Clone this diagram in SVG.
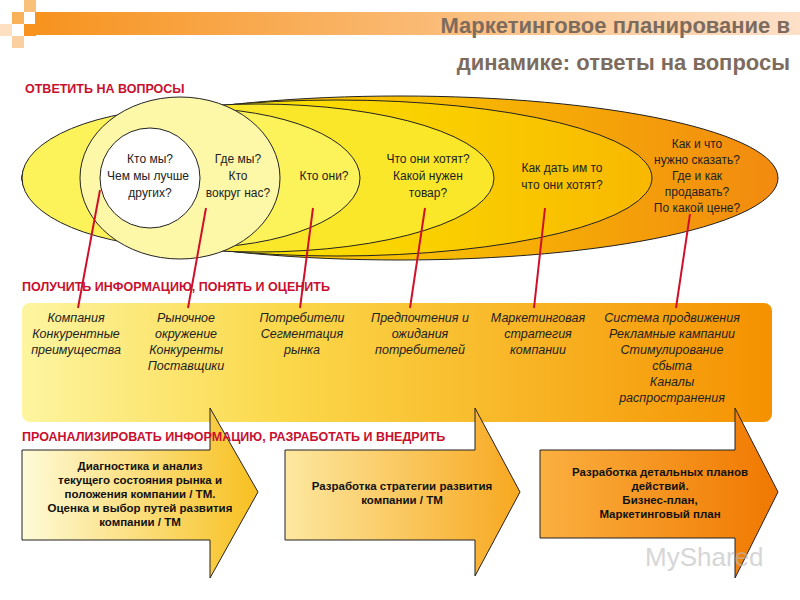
<svg xmlns="http://www.w3.org/2000/svg" width="800" height="600" viewBox="0 0 800 600">
<defs>
<linearGradient id="bar" x1="0" x2="1"><stop offset="0" stop-color="#f7931e"/><stop offset="1" stop-color="#fde0c8"/></linearGradient>
<linearGradient id="e1" x1="0" x2="1"><stop offset="0.5" stop-color="#f8c000"/><stop offset="1" stop-color="#f28a10"/></linearGradient>
<linearGradient id="e2" x1="0" x2="1"><stop offset="0.4" stop-color="#fbe000"/><stop offset="1" stop-color="#f8b800"/></linearGradient>
<linearGradient id="rect" x1="0" x2="1"><stop offset="0" stop-color="#fdf5a0"/><stop offset="0.35" stop-color="#fbd84a"/><stop offset="1" stop-color="#f59100"/></linearGradient>
<linearGradient id="ar1" x1="0" x2="1"><stop offset="0" stop-color="#fefbd8"/><stop offset="1" stop-color="#f8c020"/></linearGradient>
<linearGradient id="ar2" x1="0" x2="1"><stop offset="0" stop-color="#fde8a0"/><stop offset="1" stop-color="#f7a820"/></linearGradient>
<linearGradient id="ar3" x1="0" x2="1"><stop offset="0" stop-color="#fbb040"/><stop offset="1" stop-color="#f07800"/></linearGradient>
</defs>
<style>
.hd{font-family:"Liberation Sans",Arial,sans-serif;font-weight:bold;font-size:12.5px;fill:#c8102e}
.q{font-family:"Liberation Sans",Arial,sans-serif;font-size:12px;fill:#222;text-anchor:middle}
.it{font-family:"Liberation Sans",Arial,sans-serif;font-style:italic;font-size:12.5px;fill:#222;text-anchor:middle}
.ab{font-family:"Liberation Sans",Arial,sans-serif;font-weight:bold;font-size:11.5px;fill:#111;text-anchor:middle}
.el{stroke:#222;stroke-width:1}
.rl{stroke:#d0102a;stroke-width:2}
.arw{stroke:#222;stroke-width:1}
</style>
<rect width="800" height="600" fill="#fff"/>
<g id="header">
<rect x="35" y="12" width="765" height="23" fill="url(#bar)"/>
<rect x="12" y="12" width="12" height="12" fill="#f9b25a"/>
<rect x="24" y="0" width="12" height="12" fill="#f9c07a"/>
<rect x="24" y="24" width="12" height="12" fill="#f7931e"/>
<rect x="12" y="36" width="12" height="12" fill="#fad0a0"/>
<rect x="0" y="24" width="12" height="12" fill="#fde0c0"/>
<text x="790" y="33" text-anchor="end" font-family="Liberation Sans,Arial,sans-serif" font-size="22" font-weight="bold" fill="#7d6c5e">Маркетинговое планирование в</text>
<text x="790" y="70" text-anchor="end" font-family="Liberation Sans,Arial,sans-serif" font-size="22" font-weight="bold" fill="#7d6c5e">динамике: ответы на вопросы</text>
</g>
<text class="hd" x="25" y="93">ОТВЕТИТЬ НА ВОПРОСЫ</text>
<g id="ellipses">
<ellipse class="el" cx="400" cy="178" rx="378" ry="82" fill="url(#e1)"/>
<ellipse class="el" cx="337" cy="178" rx="315" ry="78" fill="url(#e2)"/>
<ellipse class="el" cx="258" cy="178" rx="236" ry="74" fill="#fbe72a"/>
<ellipse class="el" cx="191" cy="178" rx="169" ry="70" fill="#fcf25a"/>
<ellipse class="el" cx="180" cy="178" rx="100" ry="81" fill="#fdf8a8"/>
<circle class="el" cx="150" cy="178" r="50" fill="#fff"/>
</g>
<g id="questions">
<text class="q" x="150" y="163">Кто мы?</text><text class="q" x="148" y="180">Чем мы лучше</text><text class="q" x="150" y="197">других?</text>
<text class="q" x="238" y="163">Где мы?</text><text class="q" x="238" y="180">Кто</text><text class="q" x="238" y="197">вокруг нас?</text>
<text class="q" x="324" y="180">Кто они?</text>
<text class="q" x="428" y="163">Что они хотят?</text><text class="q" x="428" y="180">Какой нужен</text><text class="q" x="428" y="197">товар?</text>
<text class="q" x="562" y="172">Как дать им то</text><text class="q" x="562" y="189">что они хотят?</text>
<text class="q" x="697" y="148">Как и что</text><text class="q" x="697" y="164">нужно сказать?</text><text class="q" x="697" y="180">Где и как</text><text class="q" x="697" y="196">продавать?</text><text class="q" x="697" y="212">По какой цене?</text>
</g>
<rect id="inforect" x="22" y="303" width="750" height="119" rx="8" fill="url(#rect)"/>
<g id="connectors">
<line class="rl" x1="100" y1="190" x2="78" y2="308"/>
<line class="rl" x1="206" y1="208" x2="188" y2="308"/>
<line class="rl" x1="313" y1="208" x2="300" y2="308"/>
<line class="rl" x1="425" y1="208" x2="410" y2="308"/>
<line class="rl" x1="545" y1="208" x2="534" y2="308"/>
<line class="rl" x1="690" y1="214" x2="676" y2="308"/>
</g>
<text class="hd" x="22" y="291">ПОЛУЧИТЬ ИНФОРМАЦИЮ, ПОНЯТЬ И ОЦЕНИТЬ</text>
<g id="info">
<text class="it" x="76" y="322">Компания</text><text class="it" x="76" y="338">Конкурентные</text><text class="it" x="76" y="354">преимущества</text>
<text class="it" x="186" y="322">Рыночное</text><text class="it" x="186" y="338">окружение</text><text class="it" x="186" y="354">Конкуренты</text><text class="it" x="186" y="370">Поставщики</text>
<text class="it" x="302" y="322">Потребители</text><text class="it" x="302" y="338">Сегментация</text><text class="it" x="302" y="354">рынка</text>
<text class="it" x="420" y="322">Предпочтения и</text><text class="it" x="420" y="338">ожидания</text><text class="it" x="420" y="354">потребителей</text>
<text class="it" x="538" y="322">Маркетинговая</text><text class="it" x="538" y="338">стратегия</text><text class="it" x="538" y="354">компании</text>
<text class="it" x="672" y="322">Система продвижения</text><text class="it" x="672" y="338">Рекламные кампании</text><text class="it" x="672" y="354">Стимулирование</text><text class="it" x="672" y="370">сбыта</text><text class="it" x="672" y="386">Каналы</text><text class="it" x="672" y="402">распространения</text>
</g>
<g id="arrows">
<path class="arw" d="M22 450 H210 V408 L258 492 L210 578 V540 H22 Z" fill="url(#ar1)"/>
<path class="arw" d="M285 450 H475 V408 L520 492 L475 576 V540 H285 Z" fill="url(#ar2)"/>
<path class="arw" d="M540 450 H735 V408 L778 492 L735 578 V538 H540 Z" fill="url(#ar3)"/>
</g>
<text class="hd" x="22" y="441">ПРОАНАЛИЗИРОВАТЬ ИНФОРМАЦИЮ, РАЗРАБОТАТЬ И ВНЕДРИТЬ</text>
<g id="arrowtext">
<text class="ab" x="140" y="470">Диагностика и анализ</text><text class="ab" x="140" y="484">текущего состояния рынка и</text><text class="ab" x="140" y="498">положения компании / ТМ.</text><text class="ab" x="140" y="512">Оценка и выбор путей развития</text><text class="ab" x="140" y="526">компании / ТМ</text>
<text class="ab" x="402" y="490">Разработка стратегии развития</text><text class="ab" x="402" y="504">компании / ТМ</text>
<text class="ab" x="660" y="476">Разработка детальных планов</text><text class="ab" x="660" y="490">действий.</text><text class="ab" x="660" y="504">Бизнес-план,</text><text class="ab" x="660" y="518">Маркетинговый план</text>
</g>
<text x="645" y="566" font-family="Liberation Sans,Arial,sans-serif" font-size="26" fill="#bbb" opacity="0.6">MyShared</text>
</svg>
